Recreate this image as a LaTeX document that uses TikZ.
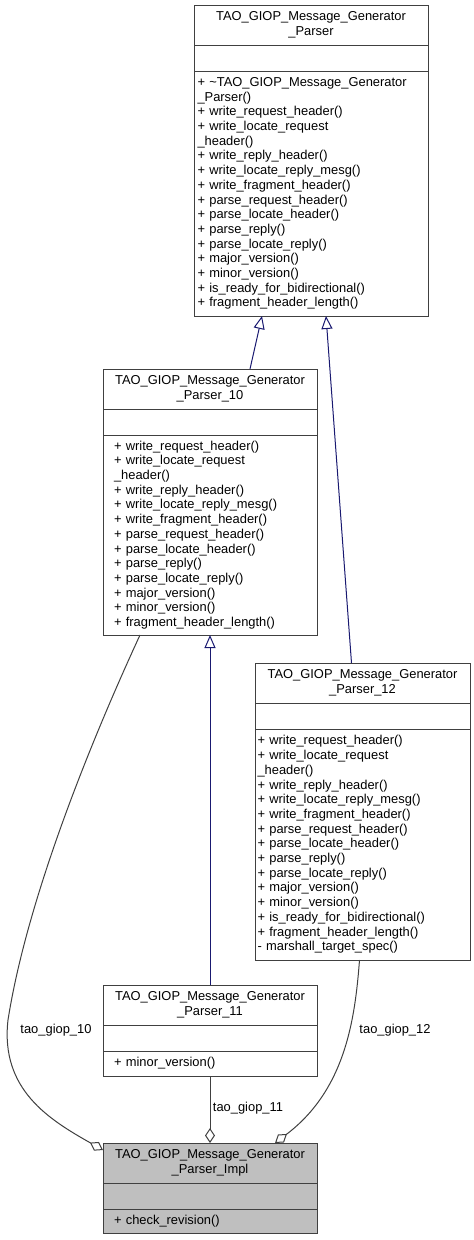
\documentclass[tikz,border=0pt]{standalone}
\usepackage{fontspec}
\setmainfont{Liberation Sans}
\usepackage{tikz}
\usetikzlibrary{arrows.meta,positioning}
\definecolor{boxline}{HTML}{404040}
\definecolor{implfill}{HTML}{BFBFBF}
\definecolor{inheritline}{HTML}{191970}
\newcommand{\umlfont}{\fontsize{12.9pt}{14.7pt}\selectfont}
\tikzset{
    %Define standard arrow tips
    inherit/.style={
           -{Triangle[open,length=13pt,width=11pt]},
           draw=inheritline, line width=1pt},
    member/.style={
           -{Diamond[open,length=15pt,width=10pt]},
           draw=boxline, line width=1pt},
    %Define styles for class boxes
    classname/.style={
           rectangle,
           draw=boxline, line width=1pt,
           outer sep=0pt, inner sep=0pt,
           minimum width=#1,
           minimum height=40pt,
           text width=#1,
           align=center,
           font=\umlfont},
    classname/.default=214pt,
    classattr/.style={
           rectangle,
           draw=boxline, line width=1pt,
           outer sep=0pt, inner sep=0pt,
           minimum width=#1,
           minimum height=26pt},
    classattr/.default=214pt,
    classops/.style 2 args={
           rectangle,
           draw=boxline, line width=1pt,
           outer sep=0pt, inner xsep=0pt, inner ysep=3pt,
           minimum width=#1,
           text width=#2,
           align=left,
           font=\umlfont},
    % Define label style
    role/.style={font=\umlfont, inner sep=0pt}
}
\begin{document}
\begin{tikzpicture}[x=1pt,y=-1pt]
\useasboundingbox (0,0) rectangle (474,1240);
% base class
\node[classname=234pt, anchor=north west](P) at (194,5){TAO\_GIOP\_Message\_Generator\\\_Parser};
\node[classattr=234pt, below=0pt of P](Pa){};
\node[classops={234pt}{227pt}, minimum height=245pt, below=0pt of Pa](Po){+ \textasciitilde TAO\_GIOP\_Message\_Generator\\\_Parser()\\+ write\_request\_header()\\+ write\_locate\_request\\\_header()\\+ write\_reply\_header()\\+ write\_locate\_reply\_mesg()\\+ write\_fragment\_header()\\+ parse\_request\_header()\\+ parse\_locate\_header()\\+ parse\_reply()\\+ parse\_locate\_reply()\\+ major\_version()\\+ minor\_version()\\+ is\_ready\_for\_bidirectional()\\+ fragment\_header\_length()};
% version 1.0
\node[classname, anchor=north west](P10) at (103,369){TAO\_GIOP\_Message\_Generator\\\_Parser\_10};
\node[classattr, below=0pt of P10](P10a){};
\node[classops={214pt}{192pt}, minimum height=200pt, below=0pt of P10a](P10o){+ write\_request\_header()\\+ write\_locate\_request\\\_header()\\+ write\_reply\_header()\\+ write\_locate\_reply\_mesg()\\+ write\_fragment\_header()\\+ parse\_request\_header()\\+ parse\_locate\_header()\\+ parse\_reply()\\+ parse\_locate\_reply()\\+ major\_version()\\+ minor\_version()\\+ fragment\_header\_length()};
% version 1.2
\node[classname=215pt, anchor=north west](P12) at (255,663){TAO\_GIOP\_Message\_Generator\\\_Parser\_12};
\node[classattr=215pt, below=0pt of P12](P12a){};
\node[classops={215pt}{210pt}, minimum height=231pt, below=0pt of P12a](P12o){+ write\_request\_header()\\+ write\_locate\_request\\\_header()\\+ write\_reply\_header()\\+ write\_locate\_reply\_mesg()\\+ write\_fragment\_header()\\+ parse\_request\_header()\\+ parse\_locate\_header()\\+ parse\_reply()\\+ parse\_locate\_reply()\\+ major\_version()\\+ minor\_version()\\+ is\_ready\_for\_bidirectional()\\+ fragment\_header\_length()\\- marshall\_target\_spec()};
% version 1.1
\node[classname, anchor=north west](P11) at (103,985){TAO\_GIOP\_Message\_Generator\\\_Parser\_11};
\node[classattr, below=0pt of P11](P11a){};
\node[classops={214pt}{192pt}, minimum height=25pt, below=0pt of P11a](P11o){+ minor\_version()};
% implementation
\node[classname, fill=implfill, anchor=north west](Impl) at (103,1143){TAO\_GIOP\_Message\_Generator\\\_Parser\_Impl};
\node[classattr, fill=implfill, below=0pt of Impl](Impla){};
\node[classops={214pt}{192pt}, fill=implfill, minimum height=24pt, below=0pt of Impla](Implo){+ check\_revision()};
% inheritance
\draw[inherit] ([xshift=40pt]P10.north) -- ([xshift=-49pt]Po.south);
\draw[inherit] ([xshift=-11pt]P12.north) -- ([xshift=15pt]Po.south);
\draw[inherit] (P11.north) -- (P10o.south);
% members
\draw[member] ([xshift=-70pt]P10o.south) .. controls (110,700) and (30,880) .. (8,1020)
              .. controls (0,1090) and (50,1120) .. ([yshift=-7pt]Impl.north west);
\draw[member] (P11o.south) -- (Impl.north);
\draw[member] ([xshift=-3pt]P12o.south) .. controls (355,1020) and (345,1090) .. ([xshift=65pt]Impl.north);
\node[role](r10) at (56,1030){tao\_giop\_10};
\node[role](r11) at (248,1108){tao\_giop\_11};
\node[role](r12) at (395,1030){tao\_giop\_12};
\end{tikzpicture}
\end{document}
